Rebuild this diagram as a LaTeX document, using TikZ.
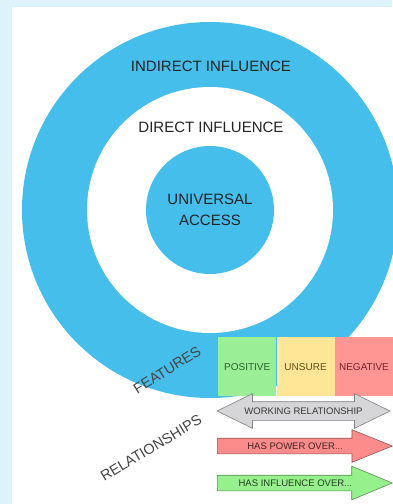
\documentclass[tikz,border=0pt]{standalone}
\usepackage{fontspec}
\setmainfont{Liberation Sans}
\usetikzlibrary{shapes.arrows,positioning}
\definecolor{bg}{RGB}{221,243,252}
\definecolor{ring}{RGB}{69,190,236}
\definecolor{ink}{RGB}{35,35,35}
\definecolor{fpos}{RGB}{153,238,150}
\definecolor{funs}{RGB}{255,229,150}
\definecolor{fneg}{RGB}{255,150,148}
\definecolor{tpos}{RGB}{45,95,45}
\definecolor{tuns}{RGB}{95,80,30}
\definecolor{tneg}{RGB}{115,35,45}
\definecolor{agray}{RGB}{214,214,216}
\definecolor{ared}{RGB}{252,140,140}
\definecolor{agreen}{RGB}{150,240,140}

\begin{document}
\begin{tikzpicture}[
        x=1pt, y=-1pt,
        disc/.style={shape=circle, fill=#1, inner sep=0pt},
        lbl/.style={text=ink, font=\fontsize{15}{21}\selectfont, align=center},
        side/.style={text=ink!85, font=\fontsize{14.5}{16}\selectfont, inner sep=1pt, rotate=#1},
        feat/.style={shape=rectangle, fill=#1, minimum width=58pt, minimum height=59pt,
          inner sep=0pt, font=\fontsize{10}{12}\selectfont},
        rel/.style={draw=#1!60!black, fill=#1, line width=0.6pt, text=#1!25!black,
          font=\fontsize{9.5}{10}\selectfont, text height=6pt, text depth=0pt, inner xsep=2pt},
        ]
        \useasboundingbox (0,0) rectangle (392,504);
        \fill[bg] (0,0) rectangle (392,504);
        \fill[white] (12,7) rectangle (392,504);
        % target rings
        \node(outer)[disc=ring, minimum size=376pt] at (210,210) {};
        \node(direct)[disc=white, minimum size=246pt] at (210,210) {};
        \node(core)[disc=ring, minimum size=128pt] at (210,210) {};
        \node(indirectlbl)[lbl] at (211,66) {INDIRECT INFLUENCE};
        \node(directlbl)[lbl] at (211,127) {DIRECT INFLUENCE};
        \node(corelbl)[lbl] at (core.center) {UNIVERSAL\\ACCESS};
        % features
        \node(pos)[feat=fpos, text=tpos, anchor=north west] at (218,337) {POSITIVE};
        \node(uns)[feat=funs, text=tuns, right=0pt of pos] {UNSURE};
        \node(neg)[feat=fneg, text=tneg, right=0pt of uns] {NEGATIVE};
        \node(features)[side=32] at (167,370) {FEATURES};
        % relationships
        \node(work)[rel=agray, double arrow, minimum height=173pt, inner ysep=6pt,
          double arrow head extend=8pt, double arrow tip angle=52] at (303.5,411)
          {WORKING RELATIONSHIP};
        \node(power)[rel=ared, single arrow, minimum height=175pt, inner ysep=4.5pt,
          single arrow head extend=8.5pt, single arrow tip angle=44, anchor=tail] at (217,446)
          {HAS POWER OVER{\color{ared!40!black}...}};
        \node(infl)[rel=agreen, single arrow, minimum height=175pt, inner ysep=4.5pt,
          single arrow head extend=9pt, single arrow tip angle=45, anchor=tail] at (217,483)
          {HAS INFLUENCE OVER{\color{agreen!40!black}...}};
        \node(relations)[side=31] at (151,448) {RELATIONSHIPS};
      \end{tikzpicture}
\end{document}
